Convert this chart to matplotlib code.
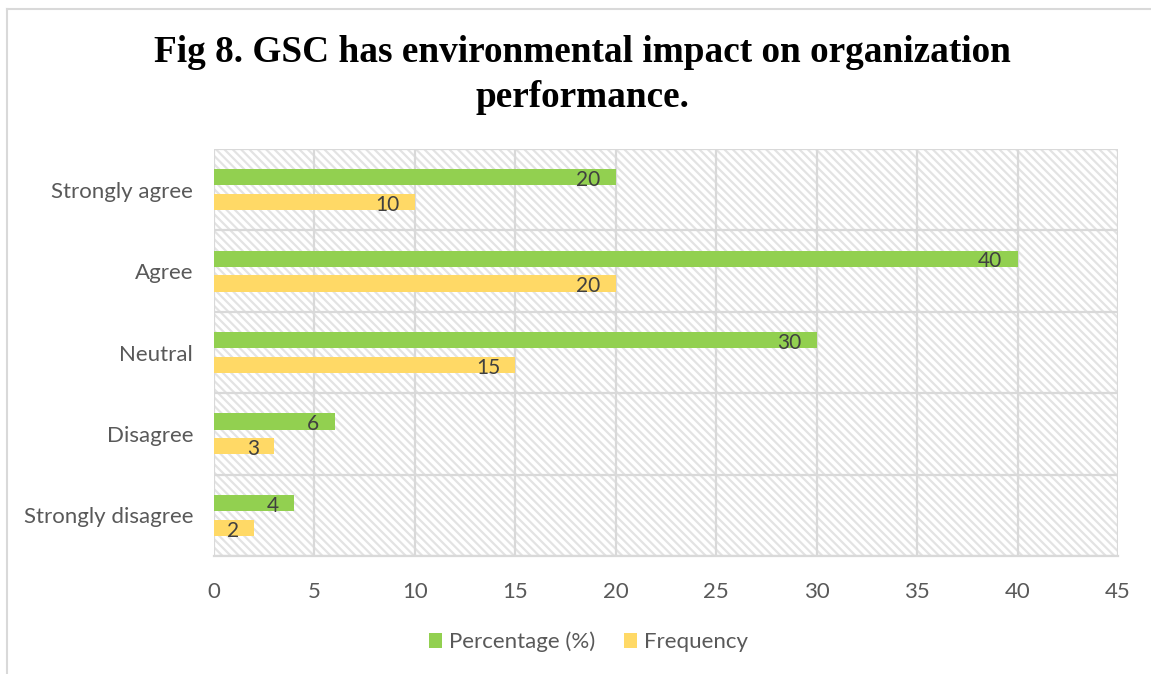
import matplotlib
matplotlib.use("Agg")
import matplotlib.pyplot as plt
from matplotlib.patches import Rectangle
import numpy as np

categories = ["Strongly disagree", "Disagree", "Neutral", "Agree", "Strongly agree"]
percentage = [4, 6, 30, 40, 20]
frequency = [2, 3, 15, 20, 10]
x_ticks = [0, 5, 10, 15, 20, 25, 30, 35, 40, 45]
title = "Fig 8. GSC has environmental impact on organization\nperformance."

GREEN = "#92D050"
YELLOW = "#FFD966"
GRID = "#d9d9d9"
HATCH = "#e3e3e3"
TEXT = "#595959"
LABEL = "#404040"

plt.rcParams["font.family"] = ["Lato", "DejaVu Sans"]
plt.rcParams["hatch.linewidth"] = 1.6

fig = plt.figure(figsize=(11.51, 6.74), dpi=100)
ax = fig.add_axes([0.1859, 0.1751, 0.9713 - 0.1859, 0.7789 - 0.1751])

# hatched plot-area background
ax.add_patch(Rectangle((0, 0), 1, 1, transform=ax.transAxes, facecolor="white",
                       edgecolor=HATCH, linewidth=0, hatch="\\\\\\\\", zorder=0))

y = np.arange(len(categories))
h = 0.2
off = 0.153
bars_p = ax.barh(y + off, percentage, height=h, color=GREEN, zorder=3, label="Percentage (%)")
bars_f = ax.barh(y - off, frequency, height=h, color=YELLOW, zorder=3, label="Frequency")

for bars in (bars_p, bars_f):
    for b in bars:
        w = b.get_width()
        ax.annotate(f"{w:g}", (w, b.get_y() + b.get_height() / 2), xytext=(-11, -2),
                    textcoords="offset points", ha="right", va="center",
                    fontsize=15, color=LABEL, zorder=4)

ax.set_xlim(0, 45)
ax.set_ylim(-0.5, len(categories) - 0.5)
ax.set_xticks(x_ticks)
ax.set_yticks(y)
ax.set_yticklabels(categories)
ax.set_yticks(np.arange(-0.5, len(categories), 1), minor=True)
ax.tick_params(axis="both", which="both", length=0, labelsize=16, labelcolor=TEXT)
ax.tick_params(axis="y", pad=15)
ax.tick_params(axis="x", pad=19)
ax.grid(axis="x", which="major", color=GRID, linewidth=1.6, zorder=1)
ax.grid(axis="y", which="minor", color=GRID, linewidth=1.6, zorder=1)
for s in ("top", "right", "left"):
    ax.spines[s].set_visible(False)
ax.spines["bottom"].set_color(GRID)
ax.spines["bottom"].set_linewidth(1.6)
ax.set_axisbelow(True)

fig.text(0.506, 1 - 75 / 674, title, ha="center", va="center", fontsize=26.8,
         fontweight="bold", family="Liberation Serif", linespacing=1.4)

leg = fig.legend(handles=[bars_p, bars_f], loc="center", bbox_to_anchor=(0.511, 1 - 642 / 674),
                 ncol=2, frameon=False, fontsize=16, handlelength=0.6, handleheight=0.6,
                 columnspacing=1.3, handletextpad=0.3)
for t in leg.get_texts():
    t.set_color(TEXT)

# outer chart border (top and left edges)
fig.add_artist(plt.Line2D([7 / 1151, 1], [1 - 8.5 / 674, 1 - 8.5 / 674],
                          transform=fig.transFigure, color="#d9d9d9", linewidth=1.5))
fig.add_artist(plt.Line2D([7 / 1151, 7 / 1151], [0, 1 - 8.5 / 674],
                          transform=fig.transFigure, color="#d9d9d9", linewidth=1.5))

fig.savefig("out.png", dpi=100)
